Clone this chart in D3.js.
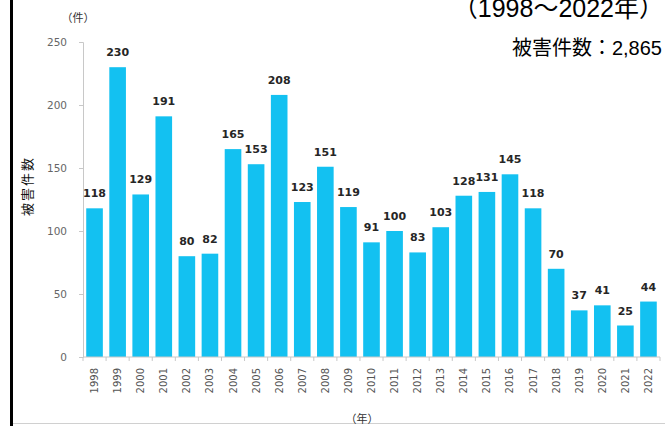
<!DOCTYPE html>
<html>
<head>
<meta charset="utf-8">
<script src="https://cdn.jsdelivr.net/npm/d3@7"></script>
<style>
  body { margin:0; background:#fff; }
  svg { display:block; font-family:"Liberation Sans","Noto Sans CJK JP",sans-serif; }
</style>
</head>
<body>
<svg></svg>
<script>
// data
var years = ["1998","1999","2000","2001","2002","2003","2004","2005","2006","2007","2008","2009","2010",
             "2011","2012","2013","2014","2015","2016","2017","2018","2019","2020","2021","2022"];
var counts = [118,230,129,191,80,82,165,153,208,123,151,119,91,100,83,103,128,131,145,118,70,37,41,25,44];
var yTicks = [0,50,100,150,200,250];

var screen = { width:665, height:426 };

var svg = d3.select("svg")
            .attr("width",screen.width)
            .attr("height",screen.height);

// left black frame line + bottom gray line
svg.append("rect").attr("x",10).attr("y",0).attr("width",3).attr("height",screen.height).attr("fill","#000");
svg.append("line").attr("x1",13).attr("x2",screen.width).attr("y1",423.5).attr("y2",423.5)
   .attr("stroke","#d0d0d0");

var xScale = d3.scaleBand()
               .domain(years)
               .range([83,660])
               .paddingInner(0.28)
               .paddingOuter(0.14);
var yScale = d3.scaleLinear()
               .domain([0,250])
               .range([357,42]);

// y axis
var yAxis = d3.axisLeft(yScale).tickValues(yTicks).tickSize(4).tickPadding(12);
var yg = svg.append("g").attr("transform","translate(83,0)").call(yAxis);
yg.select(".domain").attr("stroke","#c8c8c8");
yg.selectAll(".tick line").attr("stroke","#c8c8c8");
yg.selectAll(".tick text").attr("fill","#666").attr("font-size",10.5)
  .attr("font-family","DejaVu Sans");

// bars
svg.append("g").selectAll("rect")
   .data(counts)
   .enter()
   .append("rect")
   .attr("x",function(d,i){return xScale(years[i]);})
   .attr("y",function(d){return yScale(d);})
   .attr("width",xScale.bandwidth())
   .attr("height",function(d){return yScale(0)-yScale(d);})
   .attr("fill","#13c1f1");

// value labels
svg.append("g").selectAll("text")
   .data(counts)
   .enter()
   .append("text")
   .attr("x",function(d,i){return xScale(years[i])+xScale.bandwidth()/2;})
   .attr("y",function(d){return yScale(d)-11;})
   .attr("text-anchor","middle")
   .attr("font-family","DejaVu Sans")
   .attr("font-size",11)
   .attr("font-weight","bold")
   .attr("fill","#262626")
   .text(function(d){return d;});

// x axis, ticks between categories
var xg = svg.append("g").attr("transform","translate(0,357)");
xg.append("line").attr("x1",83).attr("x2",660).attr("stroke","#c8c8c8");
var step = xScale.step();
xg.selectAll("line.tk")
  .data(d3.range(years.length+1))
  .enter()
  .append("line")
  .attr("class","tk")
  .attr("x1",function(i){return 83+ xScale.paddingOuter()*step - xScale.paddingInner()*step/2 + i*step;})
  .attr("x2",function(i){return 83+ xScale.paddingOuter()*step - xScale.paddingInner()*step/2 + i*step;})
  .attr("y1",0).attr("y2",4)
  .attr("stroke","#c8c8c8");
xg.selectAll("text")
  .data(years)
  .enter()
  .append("text")
  .attr("transform",function(d){return "translate("+(xScale(d)+xScale.bandwidth()/2+3.5)+",11) rotate(-90)";})
  .attr("text-anchor","end")
  .attr("font-family","DejaVu Sans")
  .attr("font-size",10)
  .attr("fill","#555")
  .text(function(d){return d;});

// titles
svg.append("text").attr("x",78).attr("y",22).attr("text-anchor","middle")
   .attr("font-size",11).attr("fill","#333").text("（件）");
svg.append("text").attr("x",362).attr("y",423).attr("text-anchor","middle")
   .attr("font-size",11).attr("fill","#333").text("（年）");
svg.append("text").attr("transform","translate(32,186) rotate(-90)").attr("text-anchor","middle")
   .attr("font-size",13).attr("letter-spacing",2).attr("fill","#111").text("被害件数");
svg.append("text").attr("x",664).attr("y",17).attr("text-anchor","end")
   .attr("font-size",25).attr("fill","#000").text("（1998〜2022年）");
svg.append("text").attr("x",662).attr("y",55).attr("text-anchor","end")
   .attr("font-size",20).attr("fill","#000").text("被害件数：2,865");
</script>
</body>
</html>
